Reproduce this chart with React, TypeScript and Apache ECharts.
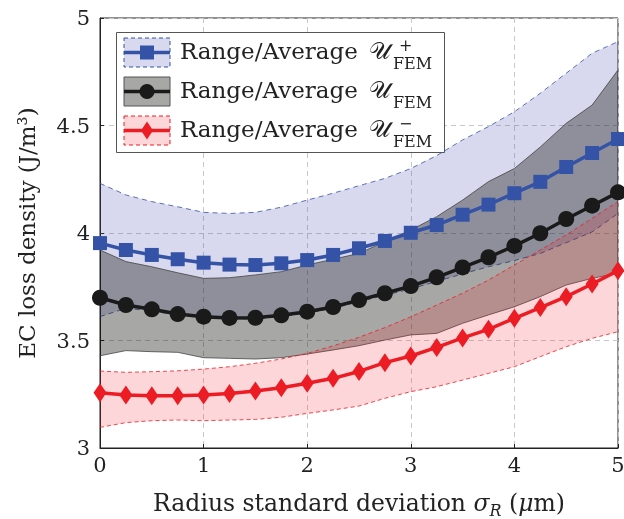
import React, { useEffect, useRef } from "react";
import * as echarts from "echarts";

const xs = [0, 0.25, 0.5, 0.75, 1, 1.25, 1.5, 1.75, 2, 2.25, 2.5, 2.75, 3, 3.25, 3.5, 3.75, 4, 4.25, 4.5, 4.75, 5];

const blueAvg = [3.953, 3.921, 3.898, 3.878, 3.862, 3.853, 3.851, 3.859, 3.874, 3.898, 3.929, 3.963, 4.001, 4.037, 4.085, 4.132, 4.185, 4.238, 4.307, 4.372, 4.437];
const blueUpper = [4.231, 4.177, 4.146, 4.122, 4.096, 4.091, 4.096, 4.12, 4.153, 4.185, 4.22, 4.254, 4.3, 4.36, 4.433, 4.495, 4.564, 4.65, 4.743, 4.836, 4.89];
const blueLower = [3.611, 3.65, 3.638, 3.618, 3.606, 3.6, 3.601, 3.611, 3.628, 3.65, 3.68, 3.71, 3.74, 3.775, 3.81, 3.843, 3.872, 3.905, 3.955, 4.005, 4.091];

const blackAvg = [3.699, 3.665, 3.645, 3.623, 3.611, 3.605, 3.606, 3.617, 3.634, 3.656, 3.688, 3.72, 3.753, 3.794, 3.84, 3.887, 3.94, 3.999, 4.065, 4.127, 4.189];
const blackUpper = [3.921, 3.867, 3.843, 3.815, 3.789, 3.792, 3.805, 3.82, 3.851, 3.878, 3.905, 3.96, 4.014, 4.076, 4.153, 4.239, 4.3, 4.4, 4.51, 4.595, 4.758];
const blackLower = [3.429, 3.453, 3.448, 3.445, 3.42, 3.417, 3.414, 3.42, 3.437, 3.456, 3.476, 3.502, 3.526, 3.533, 3.58, 3.619, 3.657, 3.704, 3.758, 3.789, 3.813];

const redAvg = [3.257, 3.247, 3.243, 3.243, 3.247, 3.253, 3.265, 3.28, 3.301, 3.324, 3.356, 3.397, 3.428, 3.468, 3.512, 3.552, 3.603, 3.653, 3.704, 3.763, 3.825];
const redUpper = [3.358, 3.352, 3.355, 3.359, 3.367, 3.378, 3.394, 3.414, 3.44, 3.475, 3.515, 3.56, 3.61, 3.665, 3.72, 3.781, 3.851, 3.921, 3.991, 4.068, 4.146];
const redLower = [3.096, 3.118, 3.127, 3.13, 3.127, 3.13, 3.133, 3.143, 3.161, 3.177, 3.195, 3.231, 3.262, 3.285, 3.316, 3.347, 3.378, 3.425, 3.471, 3.51, 3.541];

const legendLabels = ["Range/Average", "Range/Average", "Range/Average"];
const legendSup = ["+", "", "\u2212"];

const FONT = "DejaVu Serif";
const BLUE = "#3553a6";
const BLACK = "#1a1a1a";
const RED = "#ec1c24";
const BLUE_FILL = "rgba(60,60,170,0.2)";
const BLACK_FILL = "rgba(10,14,5,0.36)";
const RED_FILL = "rgba(240,30,40,0.18)";

function pairs(vals: number[]) {
  return xs.map((x, i) => [x, vals[i]]);
}

function band(name: string, up: number[], lo: number[], edgeColor: string, dash: any, fill: string, z: number) {
  return {
    name,
    type: "custom",
    z,
    clip: true,
    data: [[0, 0]],
    renderItem: (params: any, api: any) => {
      const upPts = xs.map((x, i) => api.coord([x, up[i]]));
      const loPts = xs.map((x, i) => api.coord([x, lo[i]]));
      const poly = upPts.concat(loPts.slice().reverse());
      return {
        type: "group",
        children: [
          { type: "polygon", shape: { points: poly }, style: { fill, stroke: "none" } },
          { type: "polyline", shape: { points: upPts }, style: { fill: "none", stroke: edgeColor, lineWidth: 0.8, lineDash: dash } },
          { type: "polyline", shape: { points: loPts }, style: { fill: "none", stroke: edgeColor, lineWidth: 0.8, lineDash: dash } },
        ],
      };
    },
  };
}

export default function App() {
  const ref = useRef<HTMLDivElement>(null);
  useEffect(() => {
    const chart = echarts.init(ref.current!, undefined, { renderer: "svg" });

    const rowC = [52.5, 91.5, 130.5];
    const iconColors = [
      { fill: BLUE_FILL, stroke: BLUE, dash: [4, 3], line: BLUE },
      { fill: BLACK_FILL, stroke: "#555", dash: null, line: BLACK },
      { fill: RED_FILL, stroke: RED, dash: [4, 3], line: RED },
    ];
    const graphics: any[] = [
      {
        type: "rect",
        shape: { x: 116.5, y: 32.5, width: 328, height: 120 },
        style: { fill: "#fff", stroke: "#555", lineWidth: 1 },
        z: 100,
      },
    ];
    rowC.forEach((c, i) => {
      const ic = iconColors[i];
      graphics.push({
        type: "rect",
        shape: { x: 124, y: c - 14.5, width: 46, height: 29 },
        style: { fill: ic.fill, stroke: ic.stroke, lineWidth: 1, lineDash: ic.dash || undefined },
        z: 101,
      });
      graphics.push({
        type: "line",
        shape: { x1: 124, y1: c, x2: 170, y2: c },
        style: { stroke: ic.line, lineWidth: 3.5 },
        z: 102,
      });
      if (i === 0) {
        graphics.push({ type: "rect", shape: { x: 140, y: c - 7, width: 14, height: 14 }, style: { fill: BLUE }, z: 103 });
      } else if (i === 1) {
        graphics.push({ type: "circle", shape: { cx: 147, cy: c, r: 7.5 }, style: { fill: BLACK }, z: 103 });
      } else {
        graphics.push({
          type: "polygon",
          shape: { points: [[147, c - 9], [153, c], [147, c + 9], [141, c]] },
          style: { fill: RED },
          z: 103,
        });
      }
      graphics.push({
        type: "text",
        x: 180,
        y: c + 10,
        style: { text: legendLabels[i], font: `23px '${FONT}'`, fill: "#222", verticalAlign: "bottom" },
        z: 103,
      });
      graphics.push({
        type: "text",
        x: 369,
        y: c + 10,
        style: { text: "\u{1D4B0}", font: `24px 'DejaVu Sans', 'Noto Sans', sans-serif`, fill: "#222", verticalAlign: "bottom" },
        z: 103,
      });
      if (legendSup[i]) {
        graphics.push({
          type: "text",
          x: 399,
          y: c + 1,
          style: { text: legendSup[i], font: `16px '${FONT}'`, fill: "#222", verticalAlign: "bottom" },
          z: 103,
        });
      }
      graphics.push({
        type: "text",
        x: 393,
        y: c + 19,
        style: { text: "FEM", font: `16px '${FONT}'`, fill: "#222", verticalAlign: "bottom" },
        z: 103,
      });
    });

    const option: any = {
      animation: false,
      grid: {
        left: 100,
        top: 18,
        right: 6,
        bottom: 71,
        containLabel: false,
        outerBoundsMode: "none",
        show: true,
        borderColor: "#222",
        borderWidth: 1,
        backgroundColor: "transparent",
      },
      xAxis: {
        type: "value",
        min: 0,
        max: 5,
        interval: 1,
        axisLine: { show: true, lineStyle: { color: "#222" } },
        axisTick: { show: true, inside: true, length: 4, lineStyle: { color: "#222" } },
        splitLine: { show: true, lineStyle: { color: "#c8c8c8", type: [5, 4] } },
        axisLabel: { fontFamily: FONT, fontSize: 21, color: "#222", margin: 6 },
        name: "{n|Radius standard deviation }{i|\u03C3}{s|R}{n| (}{i|\u03BC}{n|m)}",
        nameLocation: "middle",
        nameGap: 40,
        nameTextStyle: {
          rich: {
            n: { fontFamily: FONT, fontSize: 23.5, color: "#222", lineHeight: 30 },
            i: { fontFamily: FONT, fontSize: 23.5, color: "#222", fontStyle: "italic", lineHeight: 30 },
            s: { fontFamily: FONT, fontSize: 16, color: "#222", fontStyle: "italic", lineHeight: 10, verticalAlign: "bottom" },
          },
        },
      },
      yAxis: {
        type: "value",
        min: 3,
        max: 5,
        interval: 0.5,
        axisLine: { show: true, lineStyle: { color: "#222" } },
        axisTick: { show: true, inside: true, length: 4, lineStyle: { color: "#222" } },
        splitLine: { show: true, lineStyle: { color: "#c8c8c8", type: [5, 4] } },
        axisLabel: { fontFamily: FONT, fontSize: 21, color: "#222", margin: 10 },
        name: "EC loss density (J/m\u00B3)",
        nameLocation: "middle",
        nameGap: 62,
        nameTextStyle: { fontFamily: FONT, fontSize: 23, color: "#222" },
      },
      graphic: graphics,
      series: [
        band("blue", blueUpper, blueLower, BLUE, [5, 4], BLUE_FILL, 2),
        band("black", blackUpper, blackLower, "#444", null, BLACK_FILL, 3),
        band("red", redUpper, redLower, RED, [4, 3], RED_FILL, 4),
        {
          name: "blueAvg",
          type: "line",
          data: pairs(blueAvg),
          symbol: "rect",
          symbolSize: 14,
          itemStyle: { color: BLUE },
          lineStyle: { color: BLUE, width: 3.5 },
          z: 10,
        },
        {
          name: "blackAvg",
          type: "line",
          data: pairs(blackAvg),
          symbol: "circle",
          symbolSize: 16,
          itemStyle: { color: BLACK },
          lineStyle: { color: BLACK, width: 3.5 },
          z: 10,
        },
        {
          name: "redAvg",
          type: "line",
          data: pairs(redAvg),
          symbol: "diamond",
          symbolSize: [13, 19],
          itemStyle: { color: RED },
          lineStyle: { color: RED, width: 3.5 },
          z: 10,
        },
      ],
    };
    chart.setOption(option);
    return () => chart.dispose();
  }, []);
  return <div ref={ref} style={{ position: "fixed", left: 0, top: 0, width: 624, height: 519 }} />;
}
